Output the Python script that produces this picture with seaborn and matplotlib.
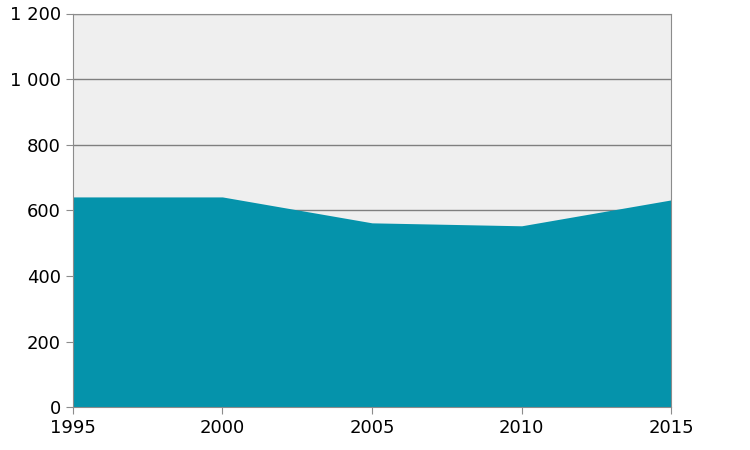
import matplotlib
matplotlib.use("Agg")
import matplotlib.pyplot as plt
import seaborn as sns
import pandas as pd
from matplotlib.ticker import FuncFormatter

years = [1995, 2000, 2005, 2010, 2015]
values = [641, 641, 562, 553, 632]

df = pd.DataFrame({"year": years, "value": values})

sns.set_style("white")
fig, ax = plt.subplots(figsize=(7.5, 4.5), dpi=100)
fig.subplots_adjust(left=0.097, right=0.895, top=0.97, bottom=0.095)

ax.set_facecolor("#efefef")
ax.fill_between(df["year"], df["value"], color="#0593ab", zorder=2, linewidth=0)
sns.lineplot(data=df, x="year", y="value", color="#0593ab", linewidth=0, ax=ax)

ax.set_xlim(1995, 2015)
ax.set_ylim(0, 1200)
ax.set_xticks(years)
ax.set_yticks(range(0, 1201, 200))
ax.yaxis.set_major_formatter(FuncFormatter(lambda v, p: f"{int(v):,}".replace(",", " ")))
ax.grid(axis="y", color="#7f7f7f", linewidth=1, zorder=1)
ax.set_axisbelow(True)
for s in ax.spines.values():
    s.set_color("#8c8c8c")
ax.tick_params(axis="both", labelsize=13, colors="black", length=5, direction="out",
               bottom=True, left=True)
ax.tick_params(axis="both", color="#8c8c8c")
ax.set_xlabel("")
ax.set_ylabel("")

fig.savefig("out.png")
